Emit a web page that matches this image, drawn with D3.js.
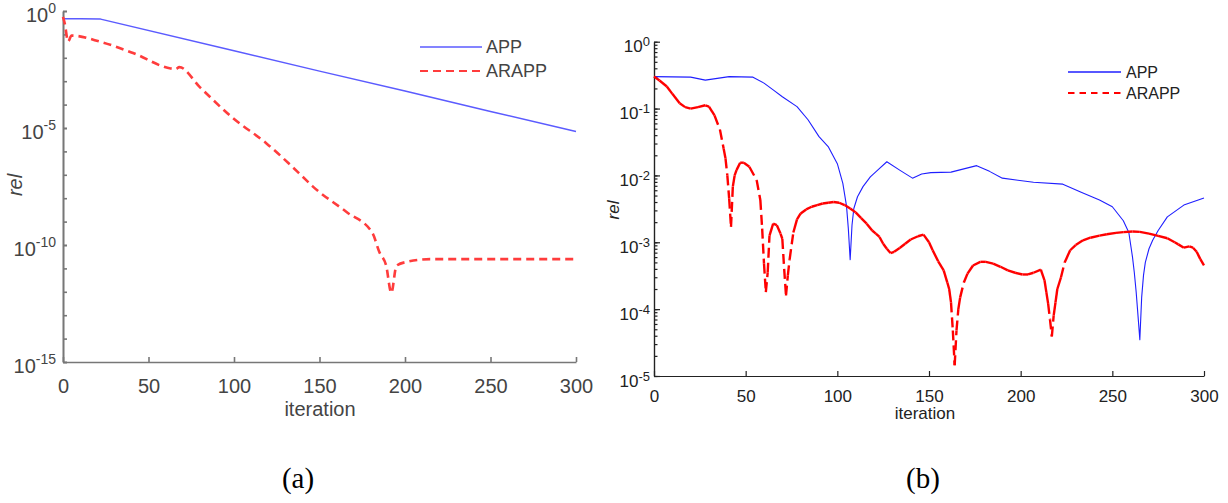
<!DOCTYPE html>
<html>
<head>
<meta charset="utf-8">
<script src="https://cdnjs.cloudflare.com/ajax/libs/d3/7.8.5/d3.min.js"></script>
<style>
  body { margin: 0; background: #fff; }
  svg { display: block; font-family: "Liberation Sans", Arial, sans-serif; }
</style>
</head>
<body>
<div id="diagram"></div>
<script>
// - - - - - - - - - -
// data
const iterTicks = [0, 50, 100, 150, 200, 250, 300];
const seriesNames = ['APP', 'ARAPP'];
const captions = ['(a)', '(b)'];

// panel (a)
const aYTicks = [1e0, 1e-5, 1e-10, 1e-15];
const aAppIter = [0, 10, 22, 100, 150, 200, 250, 300];
const aAppRel = [0.47, 0.47, 0.45, 0.02, 2.7e-3, 3.8e-4, 5.1e-5, 7.1e-6];
const aArappIter = [0, 1, 3, 5, 22, 41, 63, 66, 68, 80, 99, 119, 139, 146, 166, 181, 185, 189, 192, 195, 201, 215, 300];
const aArappRel = [0.56, 0.3, 0.05, 0.089, 0.048, 0.016, 3.5e-3, 3.3e-3, 4e-3, 5.6e-4, 2.8e-5, 2.2e-6, 1e-7, 3.2e-8,
  2.5e-9, 3.2e-10, 5e-11, 1.3e-11, 9e-13, 1.3e-11, 1.9e-11, 2.5e-11, 2.5e-11];

// panel (b)
const bYTicks = [1e0, 1e-1, 1e-2, 1e-3, 1e-4, 1e-5];
const bAppIter = [0, 20, 28, 41, 54, 60, 65, 70, 78, 84, 90, 95, 100, 103, 105, 106, 107, 108, 109, 111, 114, 118, 122,
  127, 134, 141, 146, 151, 162, 176, 183, 190, 207, 223, 233, 243, 250, 256, 259, 261, 262, 263, 264, 265, 266, 267,
  268, 270, 272, 275, 280, 289, 300];
const bAppRel = [0.30, 0.295, 0.266, 0.30, 0.295, 0.24, 0.19, 0.15, 0.107, 0.068, 0.038, 0.027, 0.015, 0.0076, 0.0035,
  0.0016, 0.00055, 0.0018, 0.0032, 0.0048, 0.0068, 0.0095, 0.012, 0.016, 0.012, 0.0091, 0.0105, 0.011, 0.0112, 0.014,
  0.0115, 0.0091, 0.0079, 0.0074, 0.0056, 0.0043, 0.0034, 0.0021, 0.0014, 0.0006, 0.00035, 0.00018, 8e-5, 3.5e-5,
  1.5e-4, 3.2e-4, 5e-4, 8e-4, 0.00107, 0.0015, 0.0024, 0.0036, 0.0046];
const bArappIter = [0, 3, 7, 10, 14, 17, 20, 24, 28, 30, 33, 36, 38, 39, 40, 41, 42, 43, 44, 45, 47, 49, 52, 56, 58, 59,
  60, 61, 62, 63, 65, 67, 69, 70, 71, 72, 73, 74, 76, 78, 80, 83, 86, 89, 92, 95, 98, 101, 104, 107, 110, 113, 116,
  119, 121, 123, 125, 127, 129, 131, 134, 137, 140, 144, 147, 150, 152, 155, 158, 160, 161, 162, 163, 164, 165, 166,
  167, 169, 171, 174, 178, 181, 185, 189, 193, 197, 201, 204, 207, 211, 213, 214, 215, 216, 217, 218, 219, 220, 222,
  224, 227, 230, 234, 238, 243, 247, 252, 256, 261, 265, 270, 275, 280, 284, 286, 289, 292, 294, 296, 298, 300];
const bArappRel = [0.302, 0.263, 0.214, 0.166, 0.120, 0.105, 0.1, 0.105, 0.112, 0.107, 0.079, 0.048, 0.025, 0.018, 0.01,
  0.0045, 0.0017, 0.0068, 0.01, 0.012, 0.0155, 0.0155, 0.0135, 0.0085, 0.0043, 0.0016, 0.00048, 0.00018, 0.00035,
  0.00126, 0.0019, 0.0018, 0.00135, 0.00112, 0.0004, 0.00016, 0.00032, 0.00056, 0.0014, 0.0022, 0.0027, 0.0031,
  0.0034, 0.0036, 0.0038, 0.0039, 0.004, 0.0039, 0.0036, 0.0032, 0.0028, 0.0023, 0.0019, 0.0015, 0.00135, 0.0012,
  0.00095, 0.0008, 0.00069, 0.00072, 0.00082, 0.00095, 0.0011, 0.00123, 0.0013, 0.001, 0.00076, 0.00052, 0.00038,
  0.00025, 0.0002, 0.000126, 4.8e-5, 1.45e-5, 4.8e-5, 1e-4, 1.5e-4, 2.5e-4, 3.4e-4, 4.5e-4, 5.1e-4, 5.1e-4, 4.8e-4,
  4.3e-4, 3.8e-4, 3.5e-4, 3.3e-4, 3.3e-4, 3.5e-4, 3.9e-4, 2.7e-4, 1.8e-4, 1.2e-4, 7e-5, 3.9e-5, 8e-5, 1.26e-4, 2e-4,
  3e-4, 5e-4, 7.6e-4, 9.1e-4, 1.07e-3, 1.17e-3, 1.26e-3, 1.32e-3, 1.38e-3, 1.42e-3, 1.45e-3, 1.43e-3, 1.35e-3,
  1.25e-3, 1.15e-3, 1.0e-3, 9.3e-4, 8.3e-4, 8.7e-4, 8.3e-4, 7.2e-4, 5.6e-4, 4.5e-4];

!(function () {
  'use strict'
  // - - - - - - - - - -
  // declaration
  let
    svg = undefined,
    panels = undefined,
    drawPanel = undefined;

  // layout / style per panel
  panels = [
    {
      left: 63, right: 576, top: 11, bottom: 362,
      yDomain: [1e-15, 1e0], yTicks: aYTicks,
      yMinor: d3.range(-15, 1).map(e => Math.pow(10, e)),
      axisColor: '#777', axisWidth: 1.6, textColor: '#444',
      font: 20, supFont: 14, supDy: -9, yPad: 7, yDy: '0.5em', xPad: 17,
      majorTick: 4, minorTick: 4, xTick: 5,
      xLabel: { x: 320, y: 416 }, yLabel: { x: 22, y: 185 },
      legend: { x0: 420, x1: 482, y: 47, dy: 24, font: 18, tx: 486 },
      caption: { x: 298, y: 488 },
      app: { iter: aAppIter, rel: aAppRel, color: '#5b5bff', width: 1.5 },
      arapp: { iter: aArappIter, rel: aArappRel, color: '#ff3c3c', width: 2.6, dash: '8,5', perSegment: false },
      legendDash: '8,5'
    },
    {
      left: 654, right: 1204, top: 41.7, bottom: 376,
      yDomain: [1e-5, 1e0], yTicks: bYTicks,
      yMinor: d3.scaleLog().domain([1e-5, 1]).ticks(),
      axisColor: '#222', axisWidth: 1.2, textColor: '#222',
      font: 17, supFont: 13, supDy: -6, yPad: 4, yDy: '0.6em', xPad: 14,
      majorTick: 6, minorTick: 3.5, xTick: 5,
      xLabel: { x: 925, y: 419 }, yLabel: { x: 619, y: 210 },
      legend: { x0: 1068, x1: 1121, y: 72, dy: 21, font: 16, tx: 1126 },
      caption: { x: 923, y: 488 },
      app: { iter: bAppIter, rel: bAppRel, color: '#1f1fff', width: 1.1 },
      arapp: { iter: bArappIter, rel: bArappRel, color: '#ff0000', width: 2.4, dash: '10,5', perSegment: true },
      legendDash: '6.5,5'
    }
  ];

  // methods
  drawPanel = function (p, i) {
    let x, y, g, line, yMajor, yMinor, xAxis, styleAxis;

    x = d3.scaleLinear().domain([0, 300]).range([p.left, p.right]);
    y = d3.scaleLog().domain(p.yDomain).range([p.bottom, p.top]);
    g = svg.append('g');

    styleAxis = function (sel) {
      sel.select('.domain').attr('stroke', p.axisColor).attr('stroke-width', p.axisWidth);
      sel.selectAll('.tick line').attr('stroke', p.axisColor).attr('stroke-width', p.axisWidth);
      sel.selectAll('.tick text').attr('fill', p.textColor).attr('font-size', p.font)
        .attr('font-family', '"Liberation Sans", Arial, sans-serif');
    };

    // y axis: minor ticks then labelled decades
    yMinor = d3.axisLeft(y).tickValues(p.yMinor).tickSizeInner(-p.minorTick).tickSizeOuter(0).tickFormat('');
    g.append('g').attr('transform', 'translate(' + p.left + ',0)').call(yMinor).call(styleAxis);

    yMajor = d3.axisLeft(y).tickValues(p.yTicks).tickSizeInner(-p.majorTick).tickSizeOuter(0)
      .tickPadding(p.yPad).tickFormat('');
    g.append('g').attr('transform', 'translate(' + p.left + ',0)').call(yMajor).call(styleAxis)
      .selectAll('.tick text')
      .attr('dy', p.yDy)
      .each(function (d) {
        let t = d3.select(this);
        t.append('tspan').text('10');
        t.append('tspan').attr('dy', p.supDy).attr('font-size', p.supFont)
          .text(String(Math.round(Math.log10(d))));
      });

    xAxis = d3.axisBottom(x).tickValues(iterTicks).tickSizeInner(-p.xTick).tickSizeOuter(0)
      .tickPadding(p.xPad).tickFormat(d3.format('d'));
    g.append('g').attr('transform', 'translate(0,' + p.bottom + ')').call(xAxis).call(styleAxis);

    // axis titles
    g.append('text').attr('x', p.xLabel.x).attr('y', p.xLabel.y).attr('text-anchor', 'middle')
      .attr('font-size', p.font).attr('fill', p.textColor).text('iteration');
    g.append('text').attr('transform', 'translate(' + p.yLabel.x + ',' + p.yLabel.y + ') rotate(-90)')
      .attr('text-anchor', 'middle').attr('font-size', p.font).attr('font-style', 'italic')
      .attr('fill', p.textColor).text('rel');

    // lines
    line = d3.line().x(d => x(d[0])).y(d => y(d[1]));

    g.append('path')
      .attr('d', line(d3.zip(p.app.iter, p.app.rel)))
      .attr('fill', 'none').attr('stroke', p.app.color).attr('stroke-width', p.app.width)
      .attr('stroke-linejoin', 'round');

    if (p.arapp.perSegment) {
      // the dash pattern restarts on every segment, so short flat pieces look solid
      d3.pairs(d3.zip(p.arapp.iter, p.arapp.rel)).forEach(function (s) {
        let len = Math.hypot(x(s[1][0]) - x(s[0][0]), y(s[1][1]) - y(s[0][1]));
        g.append('path')
          .attr('d', line(s))
          .attr('fill', 'none').attr('stroke', p.arapp.color).attr('stroke-width', p.arapp.width)
          .attr('stroke-dasharray', len > 14 ? p.arapp.dash : null);
      });
    } else {
      g.append('path')
        .attr('d', line.curve(d3.curveMonotoneX)(d3.zip(p.arapp.iter, p.arapp.rel)))
        .attr('fill', 'none').attr('stroke', p.arapp.color).attr('stroke-width', p.arapp.width)
        .attr('stroke-dasharray', p.arapp.dash);
    }

    // legend
    seriesNames.forEach(function (name, k) {
      let s = k === 0 ? p.app : p.arapp,
        ly = p.legend.y + k * p.legend.dy;
      g.append('line')
        .attr('x1', p.legend.x0).attr('x2', p.legend.x1).attr('y1', ly).attr('y2', ly)
        .attr('stroke', s.color).attr('stroke-width', k === 0 ? Math.max(s.width, 1.5) : 2.2)
        .attr('stroke-dasharray', k === 0 ? null : p.legendDash);
      g.append('text')
        .attr('x', p.legend.tx).attr('y', ly).attr('dy', '0.36em')
        .attr('font-size', p.legend.font).attr('fill', p.textColor).text(name);
    });

    // caption
    svg.append('text')
      .attr('x', p.caption.x).attr('y', p.caption.y).attr('text-anchor', 'middle')
      .attr('font-family', '"Liberation Serif", "Times New Roman", serif')
      .attr('font-size', 29).attr('fill', '#000').text(captions[i]);
  };

  // process
  svg = d3.select('#diagram').append('svg')
    .attr('width', 1228).attr('height', 503);

  panels.forEach(drawPanel);
  // - - - - - - - - - -
}())
</script>
</body>
</html>
